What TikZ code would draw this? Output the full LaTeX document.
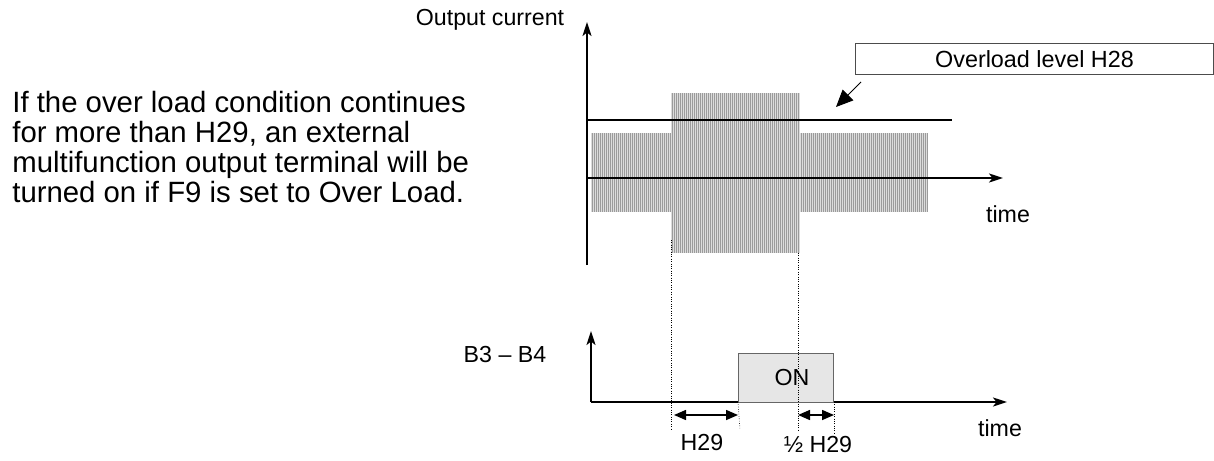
\documentclass[tikz,border=0pt]{standalone}
\usepackage{fontspec}
\setmainfont{Liberation Sans}
\usepackage{tikz}
\usetikzlibrary{arrows.meta,positioning}
\definecolor{stripegray}{RGB}{155,155,155}
\definecolor{stripelight}{RGB}{220,220,220}
\definecolor{onfill}{RGB}{230,230,230}

\begin{document}
\begin{tikzpicture}[
  x=0.02cm, y=-0.02cm,
  axis/.style={line width=0.04cm, -{Stealth[length=0.28cm, width=0.18cm, inset=0.07cm]}},
  level/.style={line width=0.04cm},
  guide/.style={densely dotted, line width=0.012cm},
  dim/.style={line width=0.03cm, {Triangle[length=0.24cm, width=0.2cm]}-{Triangle[length=0.24cm, width=0.2cm]}},
  stripe/.style={draw=stripegray, line width=0.02cm},
  lbl/.style={font=\fontsize{13.2}{15}\selectfont, inner sep=0pt},
  onbox/.style={draw=black!60, fill=onfill, line width=0.02cm, minimum width=1.92cm, minimum height=0.98cm,
                font=\fontsize{13.2}{15}\selectfont, text depth=0pt},
  notebox/.style={draw=black!70, line width=0.02cm, minimum width=7.18cm, minimum height=0.64cm,
                  font=\fontsize{13.3}{16}\selectfont},
]
  \useasboundingbox (0,0) rectangle (1214,460);

  % ---- Text ----
  \node[anchor=north west, align=left, inner sep=0pt,
        font=\fontsize{16.7}{17.1}\selectfont] (note) at (12,91)
    {If the over load condition continues\\for more than H29, an external\\multifunction output terminal will be\\turned on if F9 is set to Over Load.};

  % ---- Output current bands ----
  \fill[stripelight] (591,133) rectangle (671,212);
  \fill[stripelight] (671,93) rectangle (800,253);
  \fill[stripelight] (800,133) rectangle (928,212);
  \foreach \x in {592,594,...,670} \draw[stripe] (\x,133) -- (\x,212);
  \foreach \x in {672,674,...,799} \draw[stripe] (\x,93) -- (\x,253);
  \foreach \x in {801,803,...,927} \draw[stripe] (\x,133) -- (\x,212);

  % ---- Upper chart ----
  \coordinate (o1) at (587,265);
  \coordinate (y1) at (587,22);
  \coordinate (a1) at (587,178);
  \coordinate (x1) at (1003,178);
  \coordinate (h1) at (587,120);
  \coordinate (h2) at (952,120);
  \draw[axis] (o1) -- (y1);
  \draw[axis] (a1) -- (x1);
  \draw[level] (h1) -- (h2);
  \node[lbl] (ylab1) at (490,20) {Output current};
  \node[lbl] (xlab1) at (1008,214) {time};

  \node[notebox] (h28) at (1034.5,59) {Overload level H28};
  \coordinate (h28tail) at (861,82);
  \coordinate (h28tip) at (836,107);
  \draw[line width=0.02cm, -{Triangle[length=0.34cm, width=0.3cm]}] (h28tail) -- (h28tip);

  % ---- Lower chart ----
  \coordinate (o2) at (591,402);
  \coordinate (y2) at (591,331);
  \coordinate (x2) at (1007,402);
  \draw[axis] (o2) -- (y2);
  \draw[axis] (o2) -- (x2);
  \node[lbl] (ylab2) at (505,355) {B3 -- B4};
  \node[lbl] (xlab2) at (1000,428) {time};
  \node[onbox] (on) at (786,377.5) {\hspace*{0.24cm}ON};

  % ---- Guides ----
  \coordinate (g1a) at (671,240);
  \coordinate (g1b) at (671,430);
  \coordinate (g2a) at (798,253);
  \coordinate (g2b) at (798,430);
  \coordinate (g3a) at (738,402);
  \coordinate (g3b) at (740,430);
  \coordinate (g4a) at (834,402);
  \coordinate (g4b) at (834,434);
  \draw[guide] (g1a) -- (g1b);
  \draw[guide] (g2a) -- (g2b);
  \draw[guide] (g3a) -- (g3b);
  \draw[guide] (g4a) -- (g4b);

  % ---- Durations ----
  \coordinate (d1a) at (674,415);
  \coordinate (d1b) at (738,415);
  \coordinate (d2a) at (798,415);
  \coordinate (d2b) at (834,415);
  \draw[dim] (d1a) -- (d1b);
  \draw[dim] (d2a) -- (d2b);
  \node[lbl] (t1) at (702,443) {H29};
  \node[lbl] (t2) at (818,445) {½ H29};
\end{tikzpicture}
\end{document}
